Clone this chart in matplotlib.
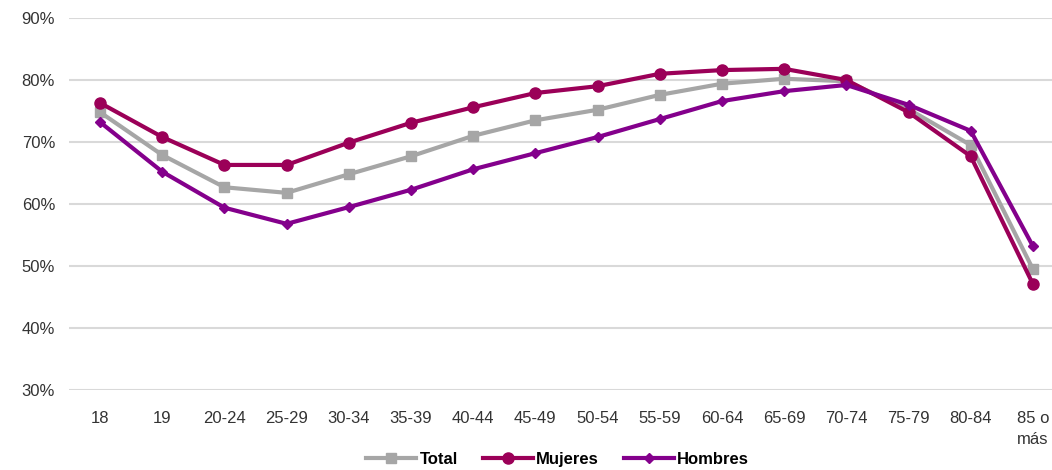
import matplotlib.pyplot as plt
from matplotlib.ticker import FuncFormatter

plt.rcParams['font.family'] = ['Liberation Sans', 'DejaVu Sans']

grupos = ["18", "19", "20-24", "25-29", "30-34", "35-39", "40-44", "45-49",
          "50-54", "55-59", "60-64", "65-69", "70-74", "75-79", "80-84", "85 o\nmás"]
total = [74.8, 67.9, 62.7, 61.8, 64.8, 67.7, 71.0, 73.5,
         75.2, 77.6, 79.4, 80.2, 79.8, 75.3, 69.5, 49.5]
mujeres = [76.3, 70.8, 66.3, 66.3, 69.9, 73.1, 75.6, 77.9,
           79.0, 81.0, 81.6, 81.8, 80.0, 74.8, 67.7, 47.1]
hombres = [73.2, 65.2, 59.4, 56.8, 59.5, 62.3, 65.6, 68.2,
           70.8, 73.7, 76.6, 78.2, 79.2, 76.0, 71.8, 53.2]

fig = plt.figure(figsize=(10.52, 4.70), dpi=100)
ax = fig.add_axes([0.0656, 0.1702, 0.9458, 0.7915])

x = range(len(grupos))
ax.plot(x, total, color="#A6A6A6", lw=3, marker="s", ms=7, label="Total")
ax.plot(x, mujeres, color="#9B0058", lw=3, marker="o", ms=8, label="Mujeres")
ax.plot(x, hombres, color="#84008C", lw=3, marker="D", ms=5, label="Hombres")

ax.set_xlim(-0.5, len(grupos) - 0.5)
ax.set_ylim(30, 90)
ax.set_yticks(range(30, 91, 10))
ax.yaxis.set_major_formatter(FuncFormatter(lambda v, _: f"{v:.0f}%"))
ax.set_xticks(list(x))
ax.set_xticklabels(grupos, linespacing=1.55)
ax.grid(axis="y", color="#D9D9D9", lw=1.5)
ax.set_axisbelow(True)
for s in ax.spines.values():
    s.set_visible(False)
ax.tick_params(length=0, labelsize=12, colors="#333333")
ax.tick_params(axis="x", pad=15)
ax.tick_params(axis="y", pad=10)

fig.legend(loc="lower center", bbox_to_anchor=(0.53, -0.025), ncol=3, frameon=False,
           prop={"weight": "bold", "size": 12}, handlelength=3, columnspacing=1.5,
           handletextpad=0.2)

fig.savefig("out.png", dpi=100)
